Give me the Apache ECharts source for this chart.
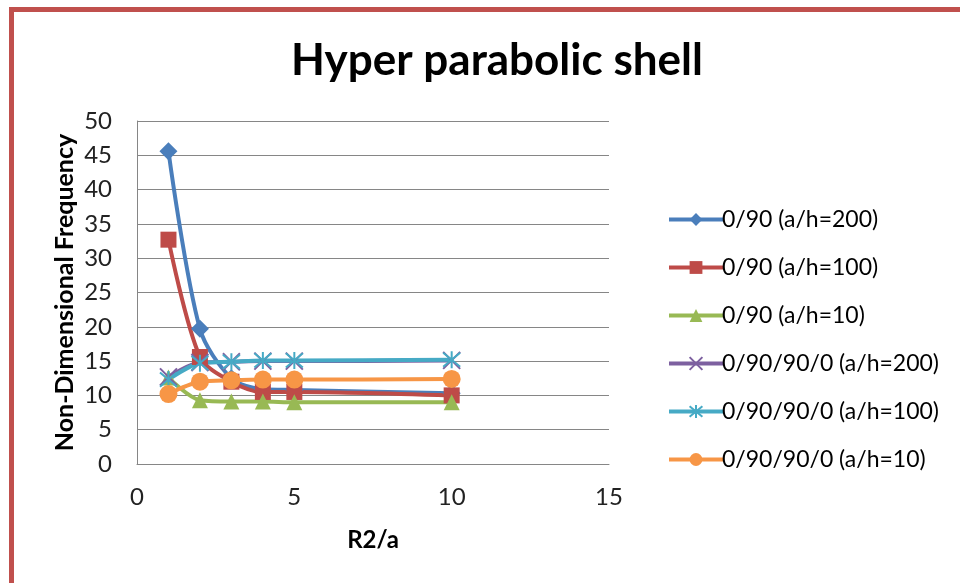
<!DOCTYPE html>
<html>
<head>
<meta charset="utf-8">
<script src="https://cdn.jsdelivr.net/npm/echarts@6/dist/echarts.min.js"></script>
<style>
  html, body { margin: 0; padding: 0; background: #fff; }
  #main { width: 960px; height: 583px; }
</style>
</head>
<body>
<div id="main"></div>
<script>
var ratio = [1, 2, 3, 4, 5, 10];
var seriesNames = ['0/90 (a/h=200)', '0/90 (a/h=100)', '0/90 (a/h=10)',
  '0/90/90/0 (a/h=200)', '0/90/90/0 (a/h=100)', '0/90/90/0 (a/h=10)'];
var cp200 = [45.6, 19.7, 12.5, 10.9, 10.8, 10.3];
var cp100 = [32.7, 15.6, 12.0, 10.5, 10.5, 10.0];
var cp10 = [12.6, 9.3, 9.1, 9.1, 9.0, 9.0];
var sym200 = [12.7, 14.8, 14.9, 15.0, 15.0, 15.1];
var sym100 = [12.3, 14.7, 14.9, 15.1, 15.1, 15.2];
var sym10 = [10.2, 12.0, 12.2, 12.3, 12.3, 12.4];
var xTicks = [0, 5, 10, 15];

var colors = ['#4a7ebb', '#be4b48', '#98b954', '#7d60a0', '#46aac5', '#f79646'];
var crossPath = 'path://M0,0L10,10M10,0L0,10';
var starPath = 'path://M0,0L10,10M10,0L0,10M5,-1L5,11';

function pairs(vals) {
  var out = [];
  for (var i = 0; i < ratio.length; i++) {
    out.push([ratio[i], vals[i]]);
  }
  return out;
}

var allVals = [cp200, cp100, cp10, sym200, sym100, sym10];
var symbols = ['diamond', 'rect', 'triangle', crossPath, starPath, 'circle'];
var sizes = [18, 16, 16, 17, 17, 18];

var series = [];
for (var i = 0; i < allVals.length; i++) {
  var stroke = (i == 3 || i == 4);
  series.push({
    name: seriesNames[i],
    type: 'line',
    data: pairs(allVals[i]),
    smooth: 0.3,
    symbol: symbols[i],
    symbolSize: sizes[i],
    showAllSymbol: true,
    lineStyle: { color: colors[i], width: 4 },
    itemStyle: stroke
      ? { color: colors[i], borderColor: colors[i], borderWidth: 2 }
      : { color: colors[i], borderWidth: 0 },
    emphasis: { disabled: true }
  });
}

var myChart = echarts.init(document.getElementById('main'), null, { renderer: 'canvas' });
var option = {
  animation: false,
  backgroundColor: '#fff',
  title: {
    text: 'Hyper parabolic shell',
    left: 492,
    textAlign: 'center',
    top: 34,
    textStyle: { fontFamily: 'Lato', fontWeight: 'bold', fontSize: 44, color: '#000' }
  },
  graphic: [
    { type: 'rect', shape: { x: 9, y: 7, width: 5, height: 576 }, style: { fill: '#c0504d' } },
    { type: 'rect', shape: { x: 9, y: 7, width: 951, height: 5 }, style: { fill: '#c0504d' } }
  ],
  legend: {
    orient: 'vertical',
    left: 662,
    top: 203,
    itemWidth: 54,
    itemHeight: 16,
    itemGap: 25,
    lineStyle: { width: 4 },
    textStyle: { fontFamily: 'Lato', fontSize: 23, color: '#000', padding: [0, 0, 0, -6] },
    data: seriesNames
  },
  grid: { left: 137, right: 351, top: 121, bottom: 119 },
  xAxis: {
    type: 'value',
    min: xTicks[0],
    max: xTicks[xTicks.length - 1],
    interval: 5,
    name: 'R2/a',
    nameLocation: 'middle',
    nameGap: 64,
    nameTextStyle: { fontFamily: 'Lato', fontWeight: 'bold', fontSize: 24, color: '#000' },
    axisLine: { lineStyle: { color: '#868686', width: 1 } },
    axisTick: { show: false },
    splitLine: { show: false },
    axisLabel: { fontFamily: 'Lato', fontSize: 24, color: '#222', margin: 21 }
  },
  yAxis: {
    type: 'value',
    min: 0,
    max: 50,
    interval: 5,
    name: 'Non-Dimensional Frequency',
    nameLocation: 'middle',
    nameGap: 60,
    nameTextStyle: { fontFamily: 'Lato', fontWeight: 'bold', fontSize: 25, color: '#000' },
    axisLine: { show: true, lineStyle: { color: '#868686', width: 1 } },
    axisTick: { show: false },
    splitLine: { show: true, lineStyle: { color: '#868686', width: 1 } },
    axisLabel: { fontFamily: 'Lato', fontSize: 24, color: '#222', margin: 25 }
  },
  series: series
};
myChart.setOption(option);
</script>
</body>
</html>
